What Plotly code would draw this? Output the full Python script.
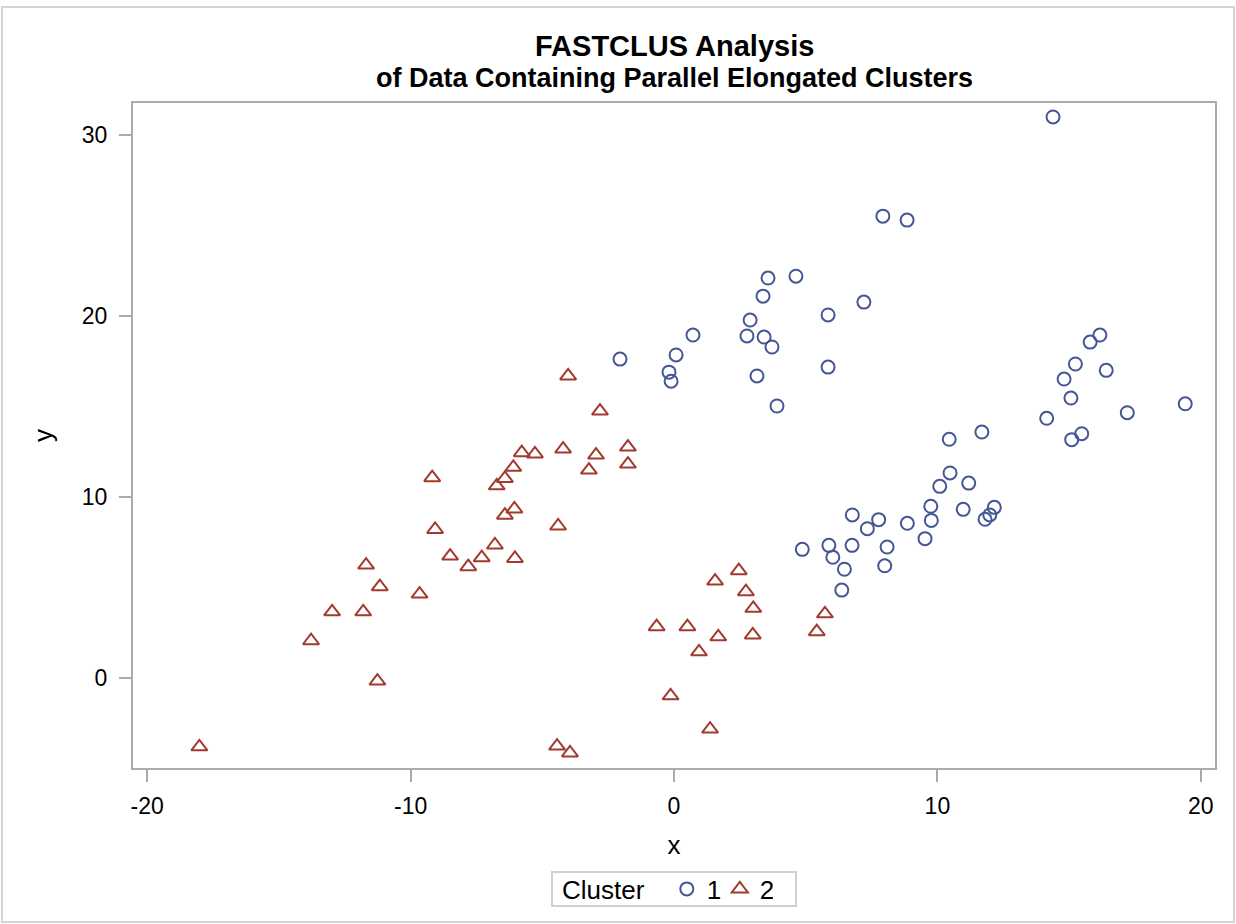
import plotly.graph_objects as go

# ---- data ----
cluster1_x = [14.39, 7.93, 8.85, 4.63, 3.57, 3.38, 7.21, 5.85, 2.89, 0.72, 2.77, 3.42, 3.72, -2.05, 0.08, -0.19, -0.11, 3.15, 5.85, 3.91,
              16.17, 15.80, 15.24, 16.41, 14.81, 15.07, 19.41, 17.21, 14.15, 15.48, 15.10, 10.45, 11.69, 10.48, 10.09, 11.19, 9.75, 10.98,
              12.16, 11.99, 11.81, 9.77, 6.77, 7.77, 7.34, 8.86, 9.53, 4.87, 5.88, 6.76, 8.09, 6.03, 6.47, 8.00, 6.37]
cluster1_y = [31.0, 25.52, 25.3, 22.2, 22.1, 21.1, 20.77, 20.06, 19.78, 18.95, 18.9, 18.84, 18.29, 17.62, 17.85, 16.9, 16.4, 16.69, 17.18, 15.03,
              18.95, 18.56, 17.35, 17.0, 16.52, 15.47, 15.15, 14.66, 14.35, 13.50, 13.17, 13.19, 13.59, 11.33, 10.59, 10.77, 9.49, 9.32,
              9.43, 9.01, 8.77, 8.71, 9.01, 8.75, 8.25, 8.55, 7.70, 7.11, 7.33, 7.33, 7.24, 6.67, 6.01, 6.20, 4.86]

cluster2_x = [-18.02, -13.78, -12.98, -11.80, -11.69, -11.17, -11.26, -9.66, -9.18, -9.07, -8.50, -7.81, -7.30, -6.80, -6.04, -6.73,
              -6.42, -6.10, -5.78, -5.28, -6.42, -6.06,
              -4.02, -2.81, -4.21, -2.96, -3.23, -1.75, -1.75, -4.40, -4.44, -3.95,
              2.46, 1.56, 2.73, 3.01, 5.73, 5.42, -0.66, 0.51, 1.68, 2.99, 0.95, -0.13, 1.37]
cluster2_y = [-3.80, 2.06, 3.66, 3.66, 6.24, 5.05, -0.17, 4.64, 11.07, 8.21, 6.74, 6.15, 6.65, 7.35, 6.61, 10.62,
              11.03, 11.64, 12.45, 12.38, 9.0, 9.34,
              16.69, 14.75, 12.65, 12.32, 11.49, 12.76, 11.82, 8.40, -3.76, -4.14,
              5.93, 5.36, 4.77, 3.85, 3.55, 2.56, 2.84, 2.84, 2.28, 2.38, 1.45, -0.98, -2.82]

cluster_names = ["1", "2"]
x_ticks = [-20, -10, 0, 10, 20]
y_ticks = [0, 10, 20, 30]

title_main = "FASTCLUS Analysis"
title_sub = "of Data Containing Parallel Elongated Clusters"

BLUE = "#445694"
RED = "#A23A2E"
FONT = "Liberation Sans, Arial, sans-serif"

W, H = 1236, 924
L, R, T, B = 133, 21, 103, 156
PW, PH = W - L - R, H - T - B


def px_x(p):
    return (p - L) / PW


def px_y(p):
    return (H - B - p) / PH


fig = go.Figure()
fig.add_trace(go.Scatter(
    x=cluster1_x, y=cluster1_y, mode="markers", name=cluster_names[0],
    marker=dict(symbol="circle-open", size=13, color=BLUE, line=dict(width=2, color=BLUE)),
))
fig.add_trace(go.Scatter(
    x=cluster2_x, y=cluster2_y, mode="markers", name=cluster_names[1],
    marker=dict(symbol="triangle-up-open", size=14, color=RED, line=dict(width=2, color=RED)),
))

axis_common = dict(
    showline=True, mirror=True, linecolor="#ababab", linewidth=2,
    ticks="outside", ticklen=12, tickwidth=2, tickcolor="#ababab",
    showgrid=False, zeroline=False, automargin=False,
    tickfont=dict(family=FONT, size=23, color="#000000"),
)

fig.update_xaxes(
    range=[-20.54, 20.54], tickvals=x_ticks, ticktext=[str(v) for v in x_ticks],
    title=dict(text="x", font=dict(family=FONT, size=26, color="#000000"), standoff=18),
    ticklabelstandoff=4,
    **axis_common,
)
fig.update_yaxes(
    range=[-4.97, 31.77], tickvals=y_ticks, ticktext=[str(v) for v in y_ticks],
    title=dict(text="y", font=dict(family=FONT, size=26, color="#000000"), standoff=22),
    ticklabelstandoff=7,
    **axis_common,
)

fig.add_annotation(text="<b>" + title_main + "</b>", xref="paper", yref="paper",
                   x=0.5, y=px_y(46), xanchor="center", yanchor="middle", showarrow=False,
                   font=dict(family=FONT, size=29, color="#000000"))
fig.add_annotation(text="<b>" + title_sub + "</b>", xref="paper", yref="paper",
                   x=0.5, y=px_y(78), xanchor="center", yanchor="middle", showarrow=False,
                   font=dict(family=FONT, size=27, color="#000000"))

# outer light border of the image
fig.add_shape(type="rect", xref="paper", yref="paper",
              x0=px_x(2), x1=px_x(1234), y0=px_y(922), y1=px_y(7),
              line=dict(color="#d4d4d4", width=2), fillcolor="rgba(0,0,0,0)", layer="below")
# legend frame
fig.add_shape(type="rect", xref="paper", yref="paper",
              x0=px_x(552), x1=px_x(796), y0=px_y(906), y1=px_y(872),
              line=dict(color="#d0d0d0", width=2), fillcolor="rgba(0,0,0,0)", layer="below")

fig.update_layout(
    width=W, height=H,
    margin=dict(l=L, r=R, t=T, b=B, pad=0, autoexpand=False),
    paper_bgcolor="white", plot_bgcolor="white",
    showlegend=True,
    legend=dict(
        orientation="h", x=px_x(560), xanchor="left", y=px_y(889), yanchor="middle",
        title=dict(text="Cluster  ", font=dict(family=FONT, size=26, color="#000000")),
        font=dict(family=FONT, size=26, color="#000000"),
        borderwidth=0, bgcolor="rgba(0,0,0,0)",
        itemwidth=30, entrywidth=8, entrywidthmode="pixels",
    ),
    font=dict(family=FONT, color="#000000"),
)

fig.write_html("out.html", config={"displayModeBar": False},
               post_script="document.body.style.margin='0';")
